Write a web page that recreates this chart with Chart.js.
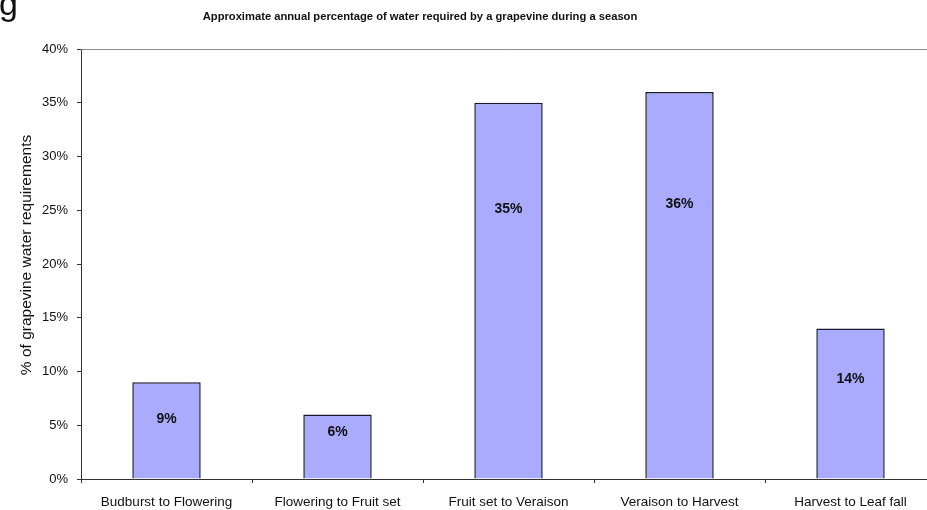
<!DOCTYPE html>
<html lang="en">
<head>
  <meta charset="UTF-8" />
  <title>Grapevine water requirements</title>
  <script src="https://cdn.jsdelivr.net/npm/chart.js"></script>
  <style>
    html, body {
      margin: 0;
      background: #fff;
      overflow: hidden;
    }
    .chart-container {
      position: relative;
      width: 940px;
      height: 510px;
    }
  </style>
</head>
<body>
  <div class="chart-container">
    <canvas id="waterChart"></canvas>
  </div>

  <script>
    // Growth stages and share of the season's water use (%)
    const stages = [
      'Budburst to Flowering',
      'Flowering to Fruit set',
      'Fruit set to Veraison',
      'Veraison to Harvest',
      'Harvest to Leaf fall'
    ];
    const waterShare = [9, 6, 35, 36, 14];
    const yTickValues = [0, 5, 10, 15, 20, 25, 30, 35, 40];

    const FONT = '"Liberation Sans", Arial, sans-serif';

    // Title, axis title, plot frame, the stray 'g' and the value labels inside the bars
    const decorations = {
      id: 'decorations',
      beforeDatasetsDraw(chart) {
        const { ctx, chartArea } = chart;
        ctx.save();
        ctx.strokeStyle = '#8c8c8c';
        ctx.lineWidth = 1;
        ctx.beginPath();
        ctx.moveTo(chartArea.left, chartArea.top + 0.5);
        ctx.lineTo(chartArea.right, chartArea.top + 0.5);
        ctx.stroke();
        ctx.restore();
      },
      afterDatasetsDraw(chart, args, opts) {
        const { ctx } = chart;
        const yScale = chart.scales.y;
        const meta = chart.getDatasetMeta(0);
        ctx.save();
        ctx.fillStyle = '#111';
        ctx.font = 'bold 14px ' + FONT;
        ctx.textAlign = 'center';
        ctx.textBaseline = 'middle';
        meta.data.forEach((bar, i) => {
          ctx.fillText(waterShare[i] + '%', bar.x, yScale.getPixelForValue(opts.labelAt[i]));
        });

        ctx.font = 'bold 11.2px ' + FONT;
        ctx.fillText(opts.title, 420, 17);

        ctx.save();
        ctx.translate(27, 255);
        ctx.rotate(-Math.PI / 2);
        ctx.font = '15.5px ' + FONT;
        ctx.fillText(opts.yTitle, 0, 0);
        ctx.restore();

        ctx.textAlign = 'left';
        ctx.textBaseline = 'alphabetic';
        ctx.font = '34px ' + FONT;
        ctx.fillText('g', -1, 15);
        ctx.restore();
      }
    };

    const ctx = document.getElementById('waterChart').getContext('2d');
    new Chart(ctx, {
      type: 'bar',
      data: {
        labels: stages,
        datasets: [{
          label: '% of grapevine water requirements',
          data: waterShare,
          backgroundColor: '#aaaaff',
          borderColor: '#1a1a2e',
          borderWidth: 1.5,
          barPercentage: 0.4,
          categoryPercentage: 1
        }]
      },
      options: {
        responsive: true,
        maintainAspectRatio: false,
        animation: false,
        layout: { padding: { top: 49, right: 4, bottom: 0, left: 0 } },
        scales: {
          x: {
            grid: {
              offset: true,
              drawOnChartArea: false,
              color: '#333',
              tickLength: 4
            },
            border: { color: '#333', width: 1 },
            ticks: {
              color: '#111',
              font: { family: FONT, size: 13.5 },
              padding: 11,
              maxRotation: 0
            },
            afterFit(scale) { scale.height = 31; }
          },
          y: {
            min: 0,
            max: 40,
            afterBuildTicks(scale) {
              scale.ticks = yTickValues.map(v => ({ value: v }));
            },
            grid: {
              drawOnChartArea: false,
              color: '#333',
              tickLength: 4
            },
            border: { color: '#333', width: 1 },
            ticks: {
              color: '#111',
              font: { family: FONT, size: 13 },
              padding: 9,
              callback: v => v + '%'
            },
            afterFit(scale) { scale.width = 81; }
          }
        },
        plugins: {
          legend: { display: false },
          tooltip: { enabled: false },
          decorations: {
            title: 'Approximate annual percentage of water required by a grapevine during a season',
            yTitle: '% of grapevine water requirements',
            labelAt: [5.6, 4.4, 25.1, 25.6, 9.3]
          }
        }
      },
      plugins: [decorations]
    });
  </script>
</body>
</html>
